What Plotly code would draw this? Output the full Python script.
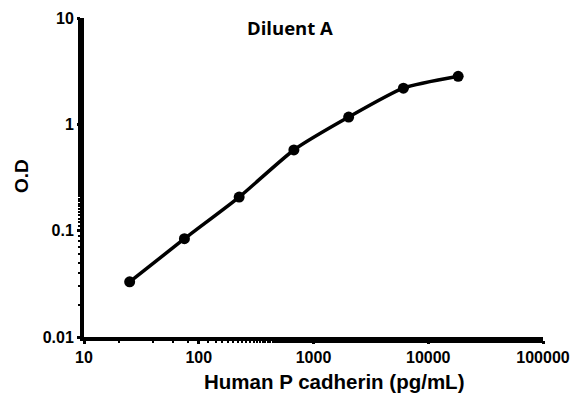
import plotly.graph_objects as go

concentration = [25, 75, 225, 675, 2025, 6075, 18225]
od_values = [0.033, 0.084, 0.207, 0.574, 1.17, 2.19, 2.83]
x_tick_vals = [10, 100, 1000, 10000, 100000]
x_tick_text = ["10", "100", "1000", "10000", "100000"]
y_tick_vals = [0.01, 0.1, 1, 10]
y_tick_text = ["0.01", "0.1", "1", "10"]

FONT = "Liberation Sans, Arial, sans-serif"
OFF = 8  # browser body margin
W, H = 579 - OFF, 398 - OFF
L, R, T, B = 84 - OFF, 36, 18 - OFF, 61

fig = go.Figure()
fig.add_trace(go.Scatter(
    x=concentration, y=od_values, mode="lines+markers",
    line=dict(color="black", width=3.5, shape="spline", smoothing=0.6),
    marker=dict(color="black", size=11),
    showlegend=False,
))

fig.update_layout(
    width=W, height=H,
    margin=dict(l=L, r=R, t=T, b=B, autoexpand=False),
    paper_bgcolor="white", plot_bgcolor="white",
    font=dict(family=FONT, color="black"),
)
pw, ph = W - L - R, H - T - B
def px(x): return (x - OFF - L) / pw
def py(y): return (H - B - (y - OFF)) / ph

def label(text, x, y, size, family=FONT, angle=0):
    fig.add_annotation(text=text, x=px(x), y=py(y), xref="paper", yref="paper",
                       xanchor="center", yanchor="middle", showarrow=False,
                       textangle=angle, font=dict(size=size, family=family, color="black"))

label("<b>Diluent A</b>", 290, 27, 18.5, "Open Sans, sans-serif")
label("<b>Human P cadherin (pg/mL)</b>", 334, 381, 20.5)
label("<b>O.D</b>", 21, 176, 19, angle=-90)

common = dict(
    type="log", showline=True, linecolor="black", linewidth=4, showgrid=False, zeroline=False,
    ticks="outside", ticklen=3, tickwidth=3, tickcolor="black", automargin=False,
    tickfont=dict(size=16, family=FONT, color="black"),
    minor=dict(ticks="outside", ticklen=2, tickwidth=2, tickcolor="black", showgrid=False),
)
fig.update_xaxes(range=[1, 5], tickvals=x_tick_vals,
                 ticktext=["<b>%s</b>" % t for t in x_tick_text], **common)
fig.update_yaxes(range=[-2, 1], tickvals=y_tick_vals,
                 ticktext=["<b>%s</b>" % t for t in y_tick_text], **common)

fig.write_html("out.html")
